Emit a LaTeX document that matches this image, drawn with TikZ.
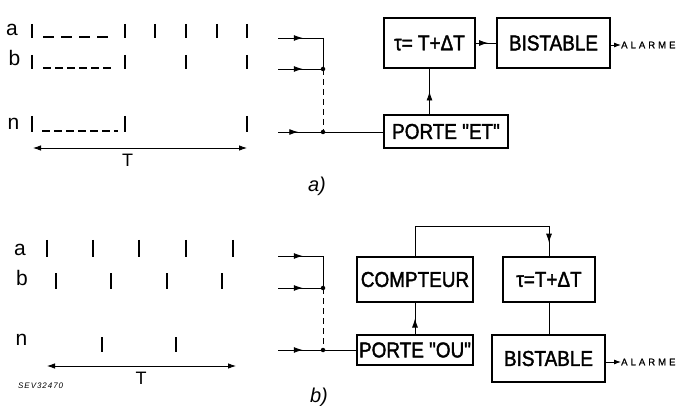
\documentclass[tikz,border=0pt]{standalone}
\usepackage{fontspec}
\setmainfont{Liberation Sans}
\newfontfamily\boxfont[FakeStretch=0.88,FakeBold=1.8]{Liberation Sans}
\newfontfamily\smallfont[LetterSpace=32,FakeBold=1]{Liberation Sans}
\newfontfamily\sevfont[LetterSpace=12]{Liberation Sans}
\usetikzlibrary{arrows.meta,decorations.markings}
\tikzset{
  blk/.style={draw, line width=1.3pt, inner sep=0pt, font=\boxfont\fontsize{21.5}{24}\selectfont},
  wire/.style={line width=0.9pt},
  midarr/.style={wire, postaction={decorate}, decoration={markings, mark=at position #1 with {\arrow{Latex[length=9pt,width=6pt]}}}},
  midarr/.default=0.55,
  endarr/.style={wire, -{Latex[length=7pt,width=5pt]}},
  tickln/.style={line width=1.6pt},
  dsh/.style={line width=1.1pt},
  jdot/.style={circle, fill, inner sep=0pt, minimum size=4.5pt},
  lbl/.style={font=\fontsize{21}{23}\selectfont, anchor=base},
  tlbl/.style={font=\fontsize{18}{20}\selectfont, anchor=base},
  captxt/.style={font=\itshape\fontsize{20}{22}\selectfont, anchor=base},
  alarm/.style={font=\smallfont\fontsize{9.5}{11}\selectfont, anchor=west, inner sep=0pt},
  spanarr/.style={line width=0.8pt, {Latex[length=8pt,width=5.5pt]}-{Latex[length=8pt,width=5.5pt]}},
  vdash/.style={wire, dash pattern=on 6pt off 4pt},
}
\begin{document}
\begin{tikzpicture}[x=1pt,y=-1pt]
\path[use as bounding box] (0,0) rectangle (688,406);

% ================= a) =================
\node[lbl] (la) at (12,36) {a};
\node[lbl] (lb) at (14.5,66) {b};
\node[lbl] (ln) at (13.5,130) {n};
\foreach \x in {32,125,155,186,217,247} \draw[tickln] (\x,24) -- (\x,38);
\draw[dsh, dash pattern=on 11pt off 7pt] (43,37) -- (110,37);
\foreach \x in {32,125,186,247} \draw[tickln] (\x,55) -- (\x,69);
\draw[dsh, dash pattern=on 8pt off 4pt] (43,68) -- (113,68);
\foreach \x in {32,125,247} \draw[tickln] (\x,116) -- (\x,132);
\draw[dsh, dash pattern=on 8pt off 4pt] (42,131) -- (118,131);
\coordinate (tA1) at (33,148);
\coordinate (tA2) at (247,148);
\draw[spanarr] (tA1) -- (tA2);
\node[tlbl] (tA) at (127.5,167) {T};

\node[blk, minimum width=91pt, minimum height=50pt] (gamA) at (429.5,43) {τ= T+ΔT};
\node[blk, minimum width=113pt, minimum height=50pt] (bisA) at (553.5,43) {BISTABLE};
\node[blk, minimum width=124pt, minimum height=33pt] (porA) at (446,131.5) {PORTE "ET"};
\node[alarm] (alA) at (621,45) {ALARME};

\coordinate (iaA) at (278,38);  \coordinate (jaA) at (323,38);
\coordinate (ibA) at (278,69);  \coordinate (jbA) at (323,69);
\coordinate (inA) at (278,132); \coordinate (jnA) at (323,132);
\draw[midarr] (iaA) -- (jaA);
\draw[wire] (jaA) -- (jbA);
\draw[midarr] (ibA) -- (jbA);
\draw[vdash] (jbA) -- (jnA);
\draw[midarr=0.45] (inA) -- (jnA);
\draw[wire] (jnA) -- (porA.west |- jnA);
\node[jdot] (dbA) at (jbA) {};
\node[jdot] (dnA) at (jnA) {};
\draw[midarr=0.5] (porA.north -| gamA.south) -- (gamA.south);
\draw[midarr=0.6] (gamA.east) -- (bisA.west);
\draw[endarr] (bisA.east |- alA.west) -- (alA.west);
\node[captxt] (capA) at (317,192) {a)};

% ================= b) =================
\node[lbl] (la2) at (20,255) {a};
\node[lbl] (lb2) at (22,285) {b};
\node[lbl] (ln2) at (21.5,345) {n};
\foreach \x in {47,93,139,186,233} \draw[tickln] (\x,240) -- (\x,257);
\foreach \x in {56,111,167,222} \draw[tickln] (\x,273) -- (\x,289);
\foreach \x in {102,176} \draw[tickln] (\x,337) -- (\x,352);
\coordinate (tB1) at (47,366);
\coordinate (tB2) at (236,366);
\draw[spanarr] (tB1) -- (tB2);
\node[tlbl] (tB) at (141,384) {T};
\node[font=\sevfont\itshape\fontsize{8}{9}\selectfont, anchor=base west, inner sep=0pt] (sev) at (18,388) {SEV32470};

\node[blk, minimum width=116pt, minimum height=45pt] (comB) at (415,279.5) {COMPTEUR};
\node[blk, minimum width=92pt, minimum height=45pt] (gamB) at (549,279.5) {τ=T+ΔT};
\node[blk, minimum width=116pt, minimum height=30pt] (porB) at (415,350) {PORTE "OU"};
\node[blk, minimum width=113pt, minimum height=47pt] (bisB) at (548.5,358.5) {BISTABLE};
\node[alarm] (alB) at (621,362) {ALARME};

\coordinate (iaB) at (278,256);  \coordinate (jaB) at (323,256);
\coordinate (ibB) at (278,288);  \coordinate (jbB) at (323,288);
\coordinate (inB) at (278,350);  \coordinate (jnB) at (323,350);
\draw[midarr] (iaB) -- (jaB);
\draw[wire] (jaB) -- (jbB);
\draw[midarr] (ibB) -- (jbB);
\draw[vdash] (jbB) -- (jnB);
\draw[midarr=0.55] (inB) -- (jnB);
\draw[wire] (jnB) -- (porB.west);
\node[jdot] (dbB) at (jbB) {};
\node[jdot] (dnB) at (jnB) {};
\draw[midarr=0.5] (porB.north) -- (comB.south);
\coordinate (upB) at (415,226);
\draw[wire] (comB.north) -- (upB) -- (upB -| gamB.north);
\draw[midarr=0.55] (upB -| gamB.north) -- (gamB.north);
\draw[wire] (gamB.south) -- (gamB.south |- bisB.north);
\draw[endarr] (bisB.east |- alB.west) -- (alB.west);
\node[captxt] (capB) at (319,402) {b)};
\end{tikzpicture}
\end{document}
